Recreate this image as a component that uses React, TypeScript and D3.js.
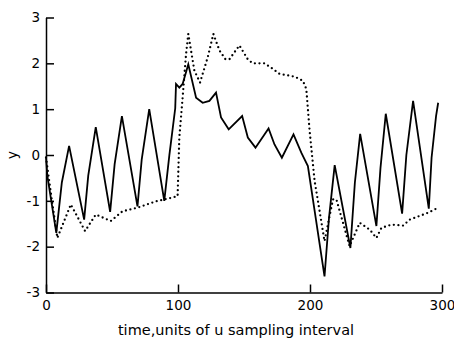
import React, { useEffect, useRef } from 'react';
import * as d3 from 'd3';

// solid trace
const solidT = [
  0, 1, 7.8, 12, 17.5, 28.9, 32, 37.7, 48.6, 52, 57.5, 69.3, 72.5, 78.2, 89.6, 93.5, 97.9, 98.5,
  101, 103.5, 107.8, 113.7, 118.7, 123.8, 128.8, 132.6, 138.4, 148.6, 152.9, 158.7, 168.6, 173.1,
  178.7, 187.5, 193.4, 198.4, 211, 214.4, 218.7, 230.6, 234, 238, 250.3, 253.4, 257.4, 269.8, 273,
  278.1, 290, 292.1, 295.5, 297.1,
];
const solidY = [
  -0.05, -0.45, -1.7, -0.6, 0.2, -1.41, -0.45, 0.61, -1.24, -0.2, 0.85, -1.12, -0.1, 1.0, -1.0, 0.01,
  1.02, 1.55, 1.47, 1.55, 1.98, 1.25, 1.14, 1.18, 1.36, 0.82, 0.56, 0.85, 0.38, 0.16, 0.58, 0.23,
  -0.06, 0.45, 0.05, -0.24, -2.65, -1.37, -0.22, -2.03, -0.6, 0.46, -1.55, -0.28, 0.9, -1.28, 0.0,
  1.18, -1.17, -0.06, 0.85, 1.14,
];

// dotted trace
const dottedT = [
  0, 4, 8.6, 18.8, 29.6, 37.7, 49.1, 57.9, 69.3, 83.3, 89.6, 99.7, 101, 103.5, 106.1, 107.8, 112.4,
  116.7, 122.5, 126.8, 131.4, 135.9, 139, 146.5, 152.8, 156.6, 165.5, 171.8, 176.9, 188.3, 194.6,
  197.2, 199.7, 203.5, 206, 211, 217.4, 220, 230, 237.7, 245.3, 250.3, 254.1, 261.7, 270.5, 275.6,
  289.5, 297.1,
];
const dottedY = [
  -0.05, -0.9, -1.81, -1.08, -1.66, -1.3, -1.44, -1.23, -1.15, -1.01, -0.97, -0.9, 0.38, 1.25, 2.2,
  2.64, 1.84, 1.58, 2.13, 2.64, 2.28, 2.09, 2.09, 2.39, 2.09, 2.0, 2.0, 1.88, 1.77, 1.71, 1.62, 1.44,
  0.53, -0.57, -1.0, -1.88, -0.97, -0.97, -1.99, -1.48, -1.63, -1.81, -1.59, -1.52, -1.54, -1.41,
  -1.26, -1.15,
];

const xTicks = [0, 100, 200, 300];
const yTicks = [-3, -2, -1, 0, 1, 2, 3];
const xLabel = 'time,units of u sampling interval';
const yLabel = 'y';

const FONT = '"DejaVu Sans", sans-serif';

export default function App() {
  const svgRef = useRef<SVGSVGElement>(null);

  useEffect(() => {
    if (!svgRef.current) return;
    const svg = d3.select(svgRef.current);
    svg.selectAll('*').remove();

    const x = d3.scaleLinear().domain([0, 300]).range([46, 442]);
    const y = d3.scaleLinear().domain([-3, 3]).range([292.5, 17.5]);

    // y axis, ticks pointing inward
    const gy = svg
      .append('g')
      .attr('transform', `translate(${x(0)},0)`)
      .call(
        d3
          .axisLeft(y)
          .tickValues(yTicks)
          .tickSizeInner(-8)
          .tickSizeOuter(0)
          .tickPadding(6)
          .tickFormat((d) => String(d))
      );

    // x axis, ticks pointing up
    const gx = svg
      .append('g')
      .attr('transform', `translate(0,${y(-3)})`)
      .call(
        d3
          .axisBottom(x)
          .tickValues(xTicks)
          .tickSizeInner(-8)
          .tickSizeOuter(0)
          .tickPadding(8)
          .tickFormat((d) => String(d))
      );

    [gx, gy].forEach((g) => {
      g.select('.domain').attr('stroke', '#000').attr('stroke-width', 1.5);
      g.selectAll('.tick line').attr('stroke', '#000').attr('stroke-width', 1.5);
      g.selectAll('.tick text')
        .attr('fill', '#000')
        .attr('font-size', 13.5)
        .attr('font-family', FONT);
    });

    const line = d3
      .line<number>()
      .x((t) => x(t))
      .curve(d3.curveLinear);

    // dotted series
    svg
      .append('path')
      .attr('d', line.y((_, i) => y(dottedY[i]))(dottedT))
      .attr('fill', 'none')
      .attr('stroke', '#000')
      .attr('stroke-width', 2.3)
      .attr('stroke-linecap', 'round')
      .attr('stroke-dasharray', '0 4.6');

    // solid series
    svg
      .append('path')
      .attr('d', line.y((_, i) => y(solidY[i]))(solidT))
      .attr('fill', 'none')
      .attr('stroke', '#000')
      .attr('stroke-width', 1.8)
      .attr('stroke-linejoin', 'miter');

    svg
      .append('text')
      .attr('x', 236)
      .attr('y', 335)
      .attr('text-anchor', 'middle')
      .attr('font-size', 14.5)
      .attr('font-family', FONT)
      .attr('fill', '#000')
      .text(xLabel);

    svg
      .append('text')
      .attr('transform', `translate(17,${y(0)}) rotate(-90)`)
      .attr('text-anchor', 'middle')
      .attr('font-size', 14)
      .attr('font-family', FONT)
      .attr('fill', '#000')
      .text(yLabel);
  }, []);

  return (
    <svg
      ref={svgRef}
      width={454}
      height={341}
      style={{ position: 'absolute', left: 0, top: 0, background: '#fff' }}
    ></svg>
  );
}
